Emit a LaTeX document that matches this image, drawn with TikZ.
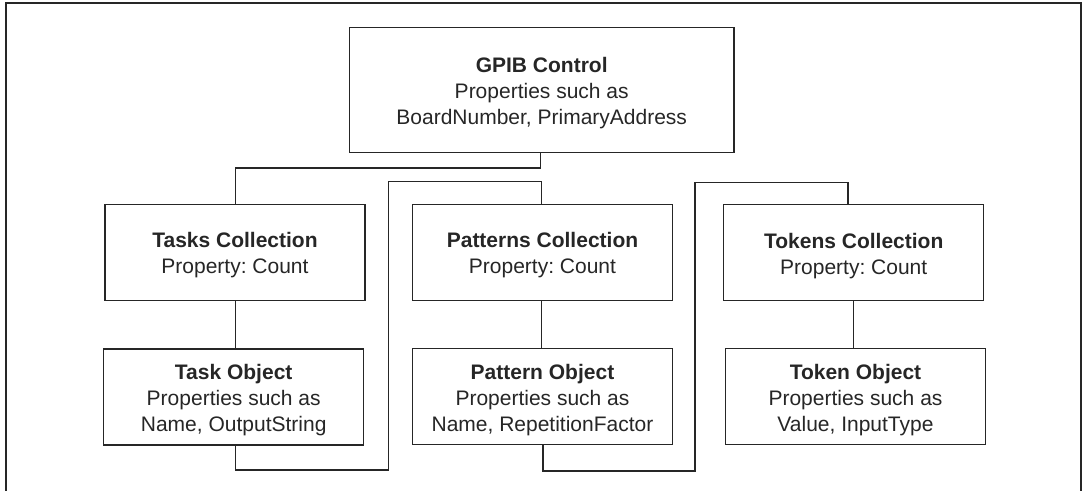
\documentclass[tikz,border=0pt]{standalone}
\usepackage{fontspec}
\setmainfont{Liberation Sans}
\usepackage{tikz}
\usetikzlibrary{positioning,calc}
\usepackage{xcolor}
\definecolor{inkgrey}{RGB}{38,38,38}
\newcommand{\boxtitle}[1]{\rule{0pt}{10.6pt}\textbf{#1}}
\frenchspacing
\begin{document}
\begin{tikzpicture}[
    x=0.5pt, y=-0.5pt,
    box/.style={rectangle, draw=inkgrey, line width=0.7pt, text=inkgrey,
        minimum width=130pt, minimum height=48pt, align=center,
        font=\fontsize{10.5pt}{13pt}\selectfont, inner sep=0pt},
    link/.style={draw=inkgrey, line width=0.7pt}
]
    \useasboundingbox (0,0) rectangle (1083,491);
    % Frame
    \draw[inkgrey, line width=1pt] (6,495) |- (1080.5,3.5) -- (1080.5,495);

    % Top control
    \node[box, minimum width=192.4pt, minimum height=62.4pt] (gpib) at (541.7,90.1)
        {\boxtitle{GPIB Control}\\Properties such as\\BoardNumber, PrimaryAddress};

    % Collections
    \node[box] (tasks) at (235,252.5) {\boxtitle{Tasks Collection}\\Property: Count};
    \node[box] (patterns) at (542.5,252.5) {\boxtitle{Patterns Collection}\\Property: Count};
    \node[box] (tokens) at (853.7,252.7) {\boxtitle{Tokens Collection}\\Property: Count};

    % Objects
    \node[box] (task) at (233.7,397) {\boxtitle{Task Object}\\Properties such as\\Name, OutputString};
    \node[box] (pattern) at (542.5,396.7) {\boxtitle{Pattern Object}\\Properties such as\\Name, RepetitionFactor};
    \node[box] (token) at (855.5,396.7) {\boxtitle{Token Object}\\Properties such as\\Value, InputType};

    % Lanes
    \coordinate (lane1) at (388.7,181.7);
    \coordinate (lane2) at (695,182.3);

    \draw[link] ([xshift=-0.7pt]gpib.south) -- ++(0,15) -| ([xshift=0.35pt]tasks.north);
    \draw[link] ([xshift=0.35pt]tasks.south) -- ([xshift=0.35pt]tasks.south |- task.north);
    \draw[link] ([xshift=1pt]task.south) -- ++(0,24.5) -| (lane1) -| ([xshift=-0.6pt]patterns.north);
    \draw[link] ([xshift=-0.4pt]patterns.south) -- ([xshift=-0.4pt]patterns.south |- pattern.north);
    \draw[link] ([xshift=0.25pt]pattern.south) -- ++(0,25.5) -| (lane2) -| ([xshift=-2.9pt]tokens.north);
    \draw[link] (tokens.south) -- (tokens.south |- token.north);
\end{tikzpicture}
\end{document}
